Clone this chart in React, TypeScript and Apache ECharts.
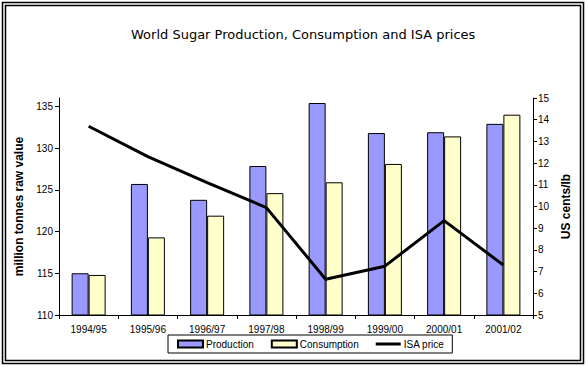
import React, { useEffect, useRef } from "react";
import * as echarts from "echarts";

const categories = ["1994/95", "1995/96", "1996/97", "1997/98", "1998/99", "1999/00", "2000/01", "2001/02"];
const production = [115.0, 125.7, 123.8, 127.85, 135.4, 131.8, 131.9, 132.9];
const consumption = [114.8, 119.3, 121.9, 124.6, 125.9, 128.1, 131.4, 134.0];
const isaPrice = [13.7, 12.3, 11.1, 9.95, 6.65, 7.25, 9.35, 7.3];
const leftTicks = [110, 115, 120, 125, 130, 135];
const rightTicks = [5, 6, 7, 8, 9, 10, 11, 12, 13, 14, 15];

export default function App() {
  const ref = useRef<HTMLDivElement>(null);
  useEffect(() => {
    if (!ref.current) return;
    const chart = echarts.init(ref.current, null, { renderer: "svg" });
    const labelFont = { fontFamily: "Liberation Sans, Arial, sans-serif", fontSize: 10, color: "#000" };
    chart.setOption({
      animation: false,
      backgroundColor: "#fff",
      title: {
        text: "World Sugar Production, Consumption and ISA prices",
        left: 131,
        top: 28,
        padding: 0,
        textStyle: { fontFamily: "DejaVu Sans, sans-serif", fontSize: 13, fontWeight: "normal", color: "#000" },
      },
      graphic: [
        { type: "rect", shape: { x: 2.5, y: 2.5, width: 581, height: 361 }, style: { fill: "none", stroke: "#000", lineWidth: 1.5 }, silent: true },
        { type: "rect", shape: { x: 5.5, y: 5.5, width: 575, height: 355 }, style: { fill: "none", stroke: "#000", lineWidth: 1.5 }, silent: true },
      ],
      legend: {
        left: 168,
        top: 335,
        padding: [4, 8, 4, 9],
        itemGap: 17,
        itemWidth: 25,
        itemHeight: 7,
        borderColor: "#000",
        borderWidth: 1,
        textStyle: { ...labelFont, padding: [0, 0, 0, -2] },
        data: [
          { name: "Production", icon: "rect" },
          { name: "Consumption", icon: "rect" },
          { name: "ISA price", icon: "path://M0,0L25,0L25,3L0,3Z", itemStyle: { color: "#000", borderWidth: 0 } },
        ],
      },
      grid: { left: 59, right: 55, top: 98, bottom: 52, containLabel: false },
      xAxis: {
        type: "category",
        data: categories,
        axisLine: { lineStyle: { color: "#000", width: 1 } },
        axisTick: { show: true, alignWithLabel: false, length: 4, lineStyle: { color: "#000" } },
        axisLabel: { ...labelFont, margin: 9, interval: 0 },
      },
      yAxis: [
        {
          type: "value",
          min: 110,
          max: 136,
          interval: 5,
          name: "million tonnes raw value",
          nameLocation: "middle",
          nameRotate: 90,
          nameGap: 34,
          nameTextStyle: { fontFamily: "Liberation Sans, Arial, sans-serif", fontSize: 12, fontWeight: "bold", color: "#000" },
          axisLine: { show: true, lineStyle: { color: "#000", width: 1 } },
          axisTick: { show: true, length: 4, lineStyle: { color: "#000" }, customValues: leftTicks },
          axisLabel: { ...labelFont, margin: 6, customValues: leftTicks },
          splitLine: { show: false },
        },
        {
          type: "value",
          min: 5,
          max: 15,
          interval: 1,
          position: "right",
          name: "US cents/lb",
          nameLocation: "middle",
          nameRotate: 90,
          nameGap: 25,
          nameTextStyle: { fontFamily: "Liberation Sans, Arial, sans-serif", fontSize: 12, fontWeight: "bold", color: "#000" },
          axisLine: { show: true, lineStyle: { color: "#000", width: 1 } },
          axisTick: { show: true, length: 4, lineStyle: { color: "#000" }, customValues: rightTicks },
          axisLabel: { ...labelFont, margin: 5, customValues: rightTicks },
          splitLine: { show: false },
        },
      ],
      series: [
        {
          name: "Production",
          type: "bar",
          data: production,
          barWidth: 17,
          barGap: "0%",
          itemStyle: { color: "#9999FF", borderColor: "#000", borderWidth: 1 },
        },
        {
          name: "Consumption",
          type: "bar",
          data: consumption,
          barWidth: 17,
          barGap: "0%",
          itemStyle: { color: "#FFFFCC", borderColor: "#000", borderWidth: 1 },
        },
        {
          name: "ISA price",
          type: "line",
          yAxisIndex: 1,
          data: isaPrice,
          symbol: "none",
          lineStyle: { color: "#000", width: 3 },
          itemStyle: { color: "#000" },
        },
      ],
    });
    return () => chart.dispose();
  }, []);
  return <div ref={ref} style={{ position: "fixed", left: 0, top: 0, width: 588, height: 367 }} />;
}
